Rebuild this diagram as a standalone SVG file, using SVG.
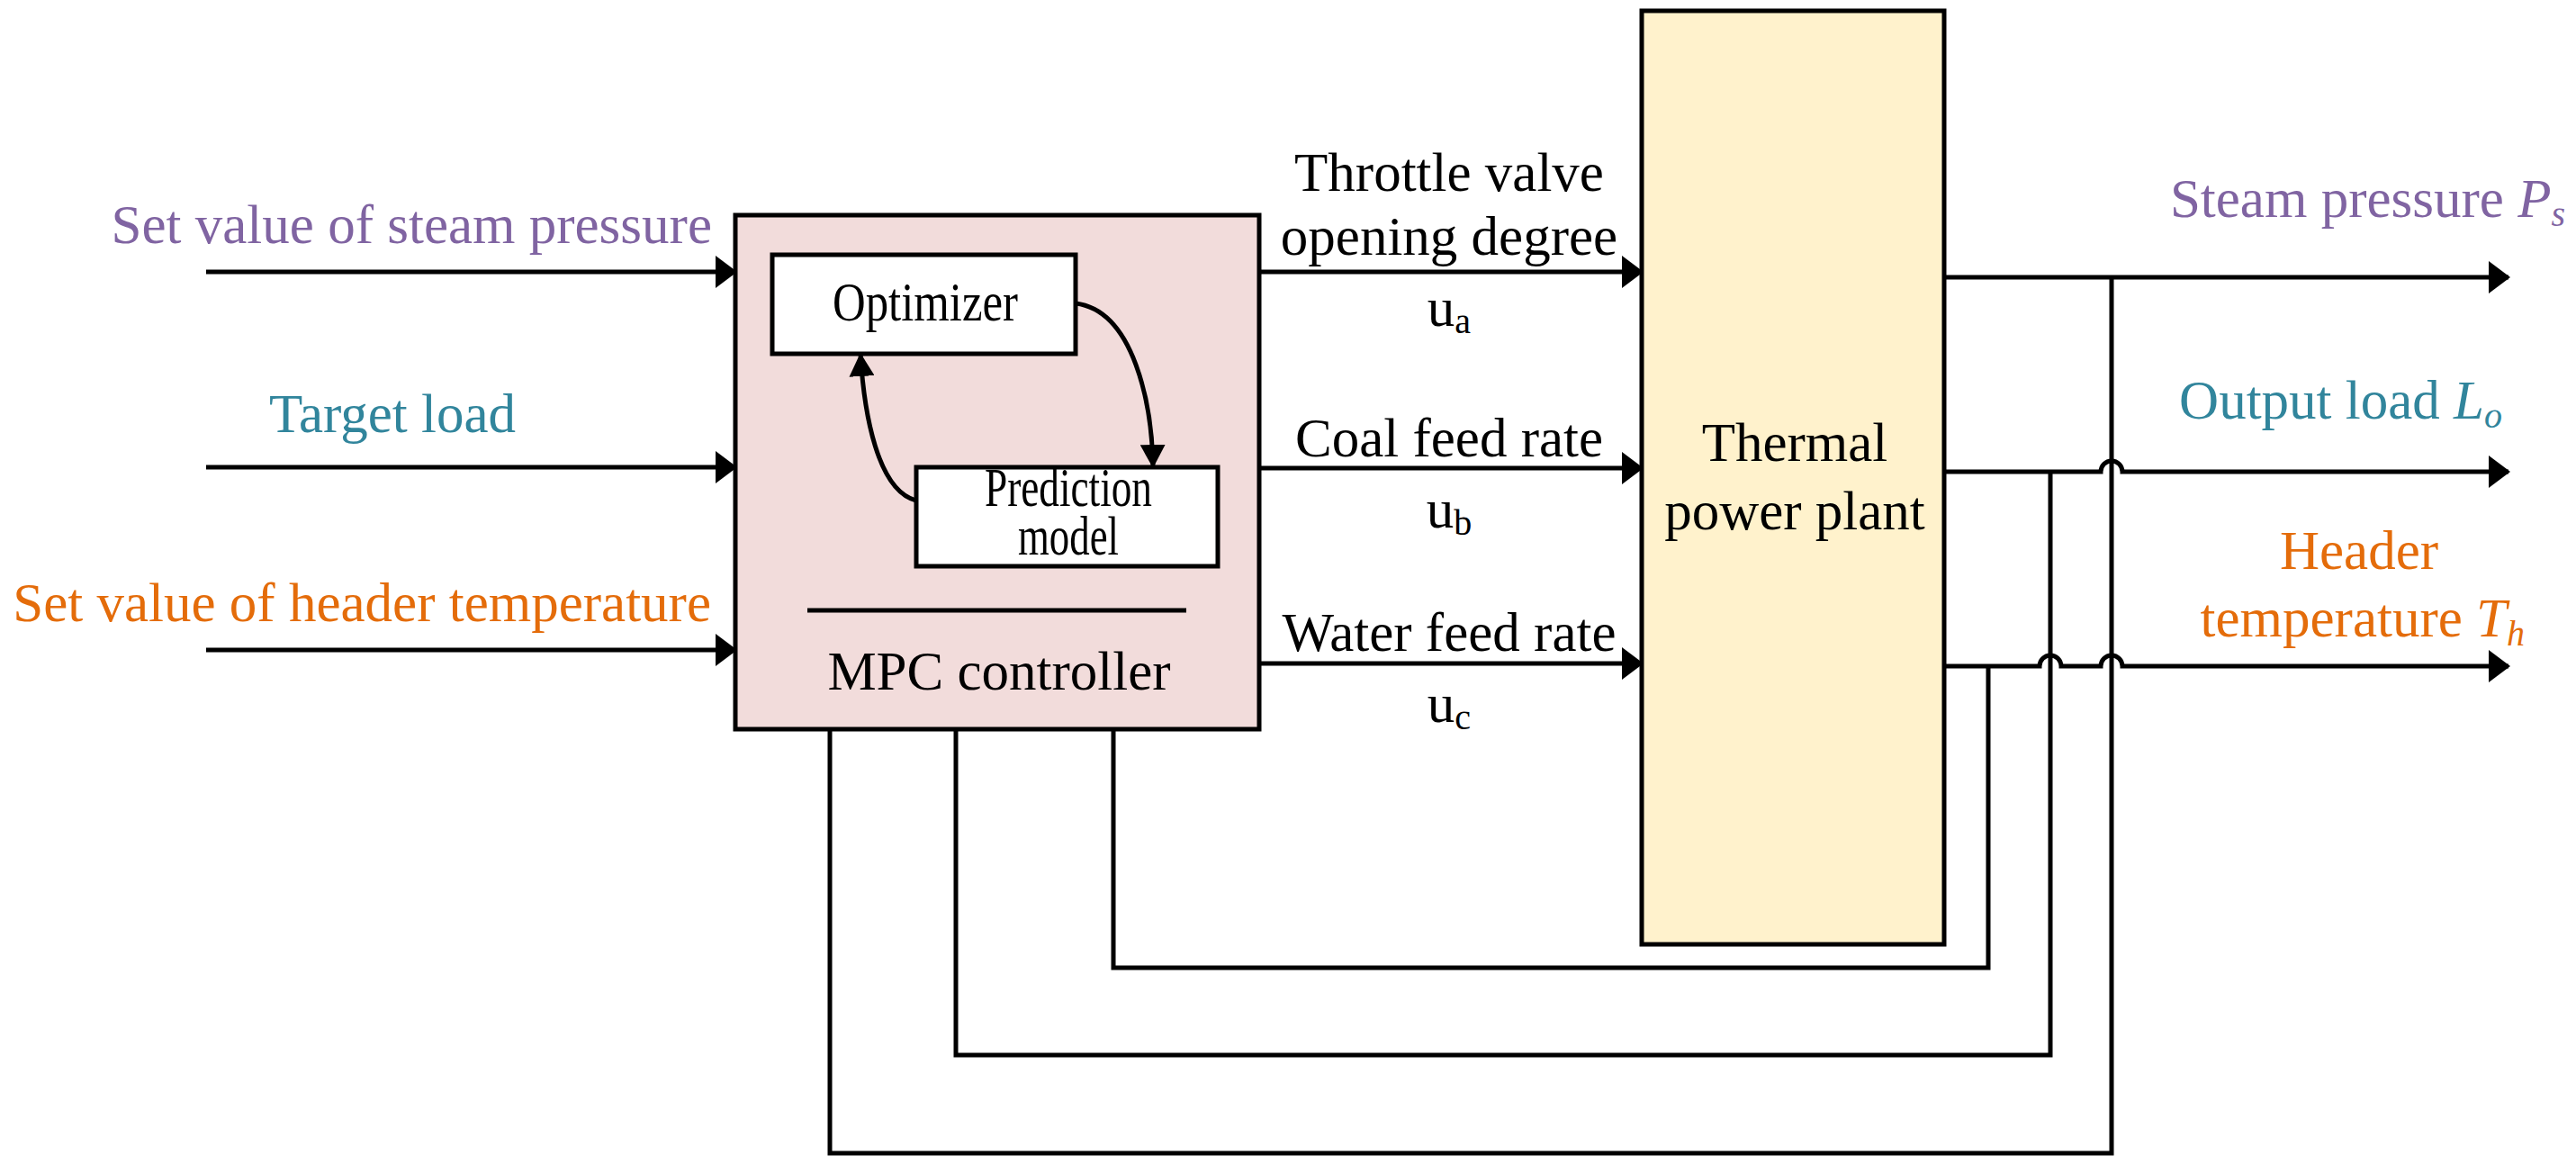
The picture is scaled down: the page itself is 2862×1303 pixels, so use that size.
<svg xmlns="http://www.w3.org/2000/svg" width="2862" height="1303" viewBox="0 0 2862 1303">
<style>
text{font-family:"Liberation Serif","Times New Roman",serif;font-size:61px;fill:#000}
.c{text-anchor:middle}
.e{text-anchor:end}
.p{fill:#8064a2}.t{fill:#31859c}.o{fill:#e46c0a}
.ln{stroke:#000;stroke-width:5;fill:none}
.box{stroke:#000;stroke-width:5}
</style>
<defs>
<marker id="ar" markerWidth="24" markerHeight="36" refX="22" refY="18" orient="auto" markerUnits="userSpaceOnUse"><path d="M0,0 L24,18 L0,36Z" fill="#000"/></marker>
<marker id="ar2" markerWidth="26" markerHeight="28" refX="25" refY="14" orient="auto" markerUnits="userSpaceOnUse"><path d="M0,0 L26,14 L0,28Z" fill="#000"/></marker>
</defs>
<g id="mpc">
<rect x="817" y="239" width="582" height="571" fill="#f2dcdb" class="box"/>
<line x1="897" y1="678" x2="1318" y2="678" class="ln"/>
<text x="1110" y="766" class="c">MPC controller</text>
</g>
<g id="optimizer">
<rect x="858" y="283" width="337" height="110" fill="#fff" class="box"/>
<text x="1028" y="356" class="c" font-size="50" textLength="206" lengthAdjust="spacingAndGlyphs">Optimizer</text>
</g>
<g id="prediction">
<rect x="1018" y="519" width="335" height="110" fill="#fff" class="box"/>
<text x="1187" y="562" class="c" font-size="40" textLength="186" lengthAdjust="spacingAndGlyphs">Prediction</text>
<text x="1187" y="616" class="c" font-size="40" textLength="112" lengthAdjust="spacingAndGlyphs">model</text>
</g>
<g id="plant">
<rect x="1824" y="12" width="336" height="1037" fill="#fff2cc" class="box"/>
<text x="1994" y="512" class="c">Thermal</text>
<text x="1994" y="588" class="c">power plant</text>
</g>
<g id="labels">
<text x="791" y="270" class="e p">Set value of steam pressure</text>
<text x="436" y="480" class="c t">Target load</text>
<text x="790" y="690" class="e o">Set value of header temperature</text>
<text x="1610" y="212" class="c">Throttle valve</text>
<text x="1610" y="283" class="c">opening degree</text>
<text x="1610" y="362" class="c">u<tspan font-size="40" dy="8">a</tspan></text>
<text x="1610" y="507" class="c">Coal feed rate</text>
<text x="1610" y="586" class="c">u<tspan font-size="40" dy="8">b</tspan></text>
<text x="1610" y="723" class="c">Water feed rate</text>
<text x="1610" y="802" class="c">u<tspan font-size="40" dy="8">c</tspan></text>
<text x="2850" y="241" class="e p">Steam pressure <tspan font-style="italic">P</tspan><tspan font-style="italic" font-size="40" dy="10">s</tspan></text>
<text x="2780" y="465" class="e t">Output load <tspan font-style="italic">L</tspan><tspan font-style="italic" font-size="40" dy="10">o</tspan></text>
<text x="2621" y="632" class="c o">Header</text>
<text x="2805" y="707" class="e o">temperature <tspan font-style="italic">T</tspan><tspan font-style="italic" font-size="40" dy="10">h</tspan></text>
</g>
<g id="connectors">
<line x1="229" y1="302" x2="817" y2="302" class="ln" marker-end="url(#ar)"/>
<line x1="229" y1="519" x2="817" y2="519" class="ln" marker-end="url(#ar)"/>
<line x1="229" y1="722" x2="817" y2="722" class="ln" marker-end="url(#ar)"/>
<line x1="1399" y1="302" x2="1824" y2="302" class="ln" marker-end="url(#ar)"/>
<line x1="1399" y1="520" x2="1824" y2="520" class="ln" marker-end="url(#ar)"/>
<line x1="1399" y1="737" x2="1824" y2="737" class="ln" marker-end="url(#ar)"/>
<path d="M1195,337 C1260,345 1280,450 1281,519" class="ln" marker-end="url(#ar2)"/>
<path d="M1018,556 C975,545 960,460 956,393" class="ln" marker-end="url(#ar2)"/>
<line x1="2160" y1="308" x2="2787" y2="308" class="ln" marker-end="url(#ar)"/>
<path d="M2160,524 H2334 A12,12 0 0 1 2358,524 H2787" class="ln" marker-end="url(#ar)"/>
<path d="M2160,740 H2266 A12,12 0 0 1 2290,740 H2334 A12,12 0 0 1 2358,740 H2787" class="ln" marker-end="url(#ar)"/>
<path d="M2346,308 V1281 H922 V810" class="ln"/>
<path d="M2278,524 V1172 H1062 V810" class="ln"/>
<path d="M2209,740 V1075 H1237 V810" class="ln"/>
</g>
</svg>
